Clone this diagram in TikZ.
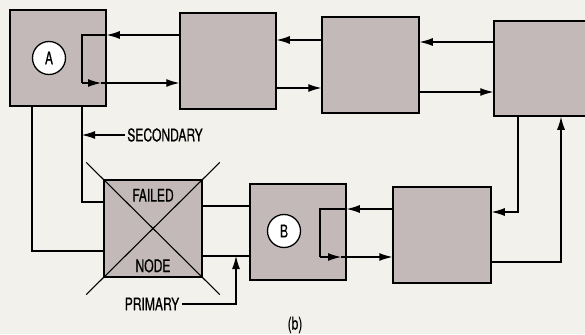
\documentclass[tikz,border=0pt]{standalone}
\usepackage{fontspec}
\setmainfont[FakeStretch=0.69,FakeBold=0.6]{TeX Gyre Heros}
\usetikzlibrary{positioning,arrows.meta}
\definecolor{boxgray}{RGB}{194,185,184}
\definecolor{paper}{RGB}{243,241,236}

\begin{document}
\begin{tikzpicture}[
x=1pt, y=-1pt,
line width=1.1pt,
font=\fontsize{17.5}{19}\selectfont,
box/.style={draw, line width=1.5pt, fill=boxgray, minimum width=96pt, minimum height=96pt, inner sep=0pt},
ring/.style={draw, circle, line width=1.3pt, fill=white, minimum size=33pt, inner sep=0pt},
tag/.style={inner sep=2pt},
>={Latex[length=13pt,width=8pt]}
]

\fill[paper] (0,0) rectangle (585,334);
\useasboundingbox (0,0) rectangle (585,334);

%-------------------------
% Nodes
%-------------------------

\node[box] (A)  at (58,58) {};
\node[box] (r1) at (228,61) {};
\node[box, minimum width=97pt] (r2) at (370.5,65) {};
\node[box, minimum width=112pt, minimum height=95pt] (r3) at (550,68.5) {};

\node[box, minimum width=98pt, minimum height=97pt] (fail) at (153,228.5) {};
\node[box] (B)  at (298,232) {};
\node[box, minimum width=98pt] (r4) at (442,235) {};

\node[ring] (ringA) at (49,58) {A};
\node[ring] (ringB) at (284,231) {B};

\node (failtop) at ([yshift=-16pt]fail.north) {FAILED};
\node (failbot) at ([yshift=12pt]fail.south) {NODE};

\node[tag] (sec)  at (165,135) {SECONDARY};
\node[tag] (prim) at (152,304) {PRIMARY};
\node (cap) at (295,325) {(b)};

% bend points
\coordinate (a1) at (82,35);
\coordinate (a2) at (82,83);
\coordinate (a3) at (101,83);
\coordinate (t1) at (300,40);
\coordinate (t2) at (300,88);
\coordinate (t3) at (450,42);
\coordinate (t4) at (450,92);
\coordinate (s1) at (518,212);
\coordinate (s2) at (561,262);
\coordinate (b1) at (320,209);
\coordinate (b2) at (320,257);
\coordinate (b3) at (341,257);
\coordinate (f1) at (226,206);
\coordinate (f2) at (236,256);
\coordinate (f3) at (236,304);
\coordinate (c1) at (82,202);
\coordinate (c2) at (32,251);

%-------------------------
% Arrows
%-------------------------

% loop through A
\draw[->] (a1 -| r1.west) -- (a1 -| A.east);
\draw (a1 -| A.east) -- (a1) -- (a2);
\draw[->] (a2) -- (a3);
\draw[->] (a3) -- (a2 -| r1.west);

\draw[->] (t1 -| r2.west) -- (t1 -| r1.east);
\draw[->] (t2 -| r1.east) -- (t2 -| r2.west);
\draw[->] (t3 -| r3.west) -- (t3 -| r2.east);
\draw[->] (t4 -| r2.east) -- (t4 -| r3.west);

\draw[->] (s1 |- r3.south) -- (s1) -- (s1 -| r4.east);
\draw[->] (s2 -| r4.east) -- (s2) -- (s2 |- r3.south);

% loop through B
\draw[->] (b1 -| r4.west) -- (b1 -| B.east);
\draw (b1 -| B.east) -- (b1) -- (b2);
\draw[->] (b2) -- (b3);
\draw[->] (b3) -- (b2 -| r4.west);

\draw (f1 -| fail.east) -- (f1 -| B.west);
\draw (f2 -| fail.east) -- (f2 -| B.west);
\draw[->] (prim.east) -- (f3) -- (f2);

\draw (c1 |- A.south) -- (c1) -- (c1 -| fail.west);
\draw (c2 |- A.south) -- (c2) -- (c2 -| fail.west);
\draw[->] (sec.west) -- (sec.west -| c1);

% cross on failed node
\draw[shorten <=-24pt, shorten >=-24pt] (fail.north west) -- (fail.south east);
\draw[shorten <=-24pt, shorten >=-24pt] (fail.south west) -- (fail.north east);

\end{tikzpicture}
\end{document}
